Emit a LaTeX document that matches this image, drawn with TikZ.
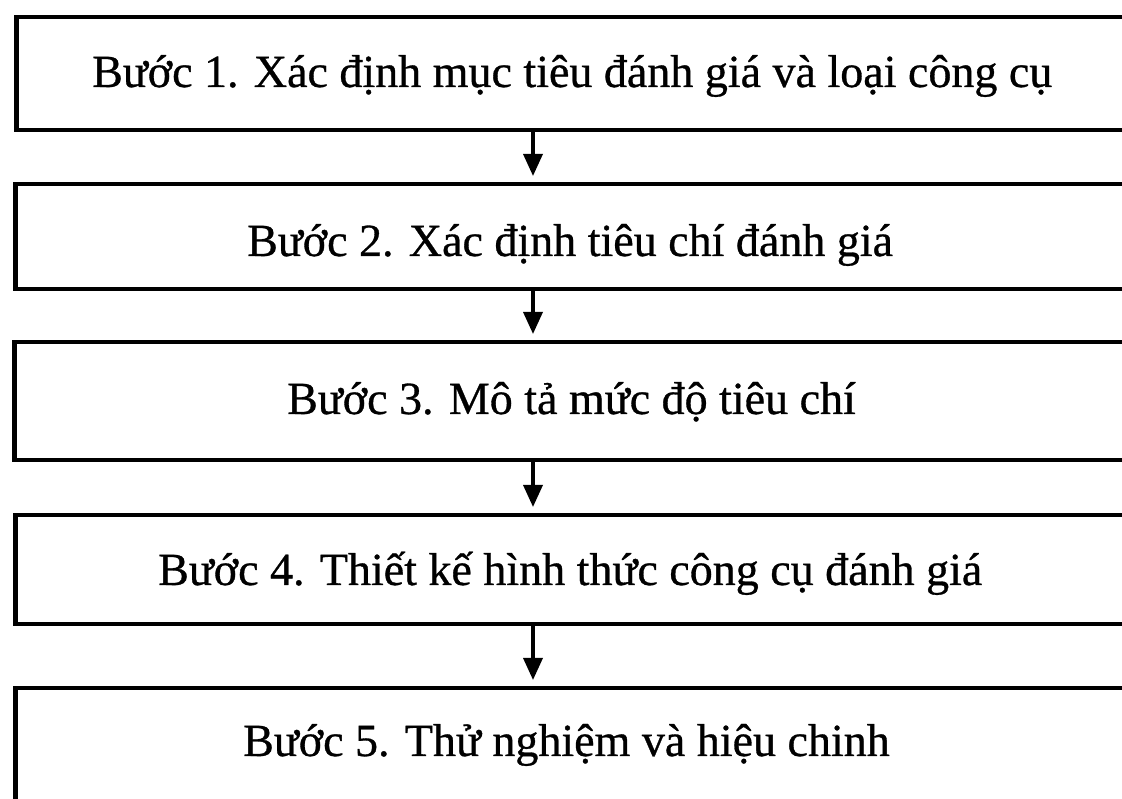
\documentclass[tikz,border=0pt]{standalone}
\usepackage{fontspec}
\setmainfont{Liberation Serif}
\newfontfamily\heavyserif[FakeBold=0.7]{Liberation Serif}
\usetikzlibrary{arrows.meta}
\begin{document}
\begin{tikzpicture}[x=1pt,y=1pt,
  stepbox/.style={draw=black,line width=4.5pt,rectangle,anchor=north west,inner sep=0pt,minimum width=1160pt},
  steptext/.style={anchor=base west,inner sep=0pt,font=\heavyserif\fontsize{46}{54}\selectfont},
  arr/.style={line width=3.5pt,-{Triangle[length=22pt,width=19pt]},shorten >=6pt}]
\useasboundingbox[clip] (0,0) rectangle (1122,799);
\fill[white] (0,0) rectangle (1122,799);
% boxes (image y -> 799 - y)
\node[stepbox,minimum height=113pt] (b1) at (14,784) {};
\node[stepbox,minimum height=105pt] (b2) at (13,617) {};
\node[stepbox,minimum height=118pt] (b3) at (12,459) {};
\node[stepbox,minimum height=109pt] (b4) at (13,286) {};
\node[stepbox,minimum height=140pt] (b5) at (13,113) {};
% texts
\node[steptext] (t1) at (92,712) {Bước 1. Xác định mục tiêu đánh giá và loại công cụ};
\node[steptext] (t2) at (247,543) {Bước 2. Xác định tiêu chí đánh giá};
\node[steptext] (t3) at (287,385) {Bước 3. Mô tả mức độ tiêu chí};
\node[steptext] (t4) at (158,214) {Bước 4. Thiết kế hình thức công cụ đánh giá};
\node[steptext] (t5) at (243,43) {Bước 5. Thử nghiệm và hiệu chinh};
% arrows
\coordinate (ax) at (533,0);
\draw[arr] (b1.south -| ax) -- (b2.north -| ax);
\draw[arr] (b2.south -| ax) -- (b3.north -| ax);
\draw[arr] (b3.south -| ax) -- (b4.north -| ax);
\draw[arr] (b4.south -| ax) -- (b5.north -| ax);
\end{tikzpicture}
\end{document}
